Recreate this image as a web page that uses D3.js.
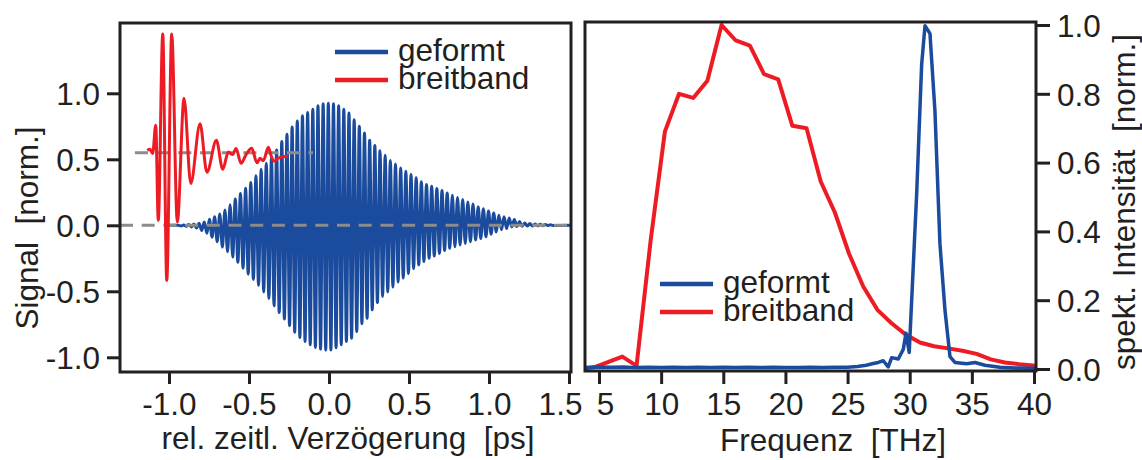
<!DOCTYPE html>
<html>
<head>
<meta charset="utf-8">
<script src="https://cdn.jsdelivr.net/npm/d3@7"></script>
<style>
  html, body { margin: 0; padding: 0; background: #fff; }
  svg { display: block; }
  text { font-family: "Liberation Sans", Arial, Helvetica, sans-serif; fill: #231f20; }
</style>
</head>
<body>
<svg id="chart" width="1142" height="460"></svg>
<script>
// ---------- tick labels ----------
const timeTicks = [-1.0, -0.5, 0.0, 0.5, 1.0, 1.5];
const signalTicks = [-1.0, -0.5, 0.0, 0.5, 1.0];
const freqTicks = [5, 10, 15, 20, 25, 30, 35, 40];
const intensityTicks = [0.0, 0.2, 0.4, 0.6, 0.8, 1.0];

// ---------- shaped pulse, time domain ----------
// crest / trough values of each carrier cycle (period in ps), starting at shapedFirstCrest
const shapedFirstCrest = -0.941;
const shapedPeriod = 0.0323;
const shapedLeadIn = -1.02;
const shapedTailOut = 1.51;
const shapedCrests = [0.0, 0.003, 0.006, 0.01, 0.015, 0.025, 0.045, 0.065, 0.085, 0.115,
  0.155, 0.2, 0.24, 0.28, 0.325, 0.375, 0.425, 0.47, 0.515, 0.57,
  0.635, 0.69, 0.745, 0.79, 0.83, 0.855, 0.88, 0.905, 0.92, 0.925,
  0.92, 0.905, 0.88, 0.85, 0.80, 0.75, 0.70, 0.645, 0.605, 0.565,
  0.53, 0.49, 0.465, 0.435, 0.41, 0.385, 0.36, 0.33, 0.31, 0.295,
  0.278, 0.263, 0.245, 0.227, 0.21, 0.195, 0.177, 0.162, 0.14, 0.125,
  0.108, 0.093, 0.077, 0.064, 0.055, 0.044, 0.028, 0.018, 0.013, 0.01,
  0.008, 0.006, 0.004];
const shapedTroughs = [-0.005, -0.008, -0.012, -0.02, -0.04, -0.06, -0.09, -0.125, -0.165, -0.20,
  -0.24, -0.28, -0.325, -0.37, -0.41, -0.455, -0.505, -0.555, -0.61, -0.66,
  -0.71, -0.76, -0.81, -0.85, -0.88, -0.905, -0.925, -0.938, -0.945, -0.945,
  -0.927, -0.905, -0.88, -0.855, -0.805, -0.745, -0.705, -0.64, -0.585, -0.54,
  -0.505, -0.468, -0.43, -0.40, -0.365, -0.327, -0.30, -0.275, -0.25, -0.233,
  -0.213, -0.19, -0.175, -0.163, -0.15, -0.137, -0.125, -0.112, -0.10, -0.087,
  -0.067, -0.05, -0.033, -0.025, -0.013, -0.01, -0.008, -0.006, -0.005, -0.004,
  -0.003, -0.002, -0.001];

// ---------- broadband pulse, time domain (offset trace) ----------
const broadbandTime = [-1.136, -1.119, -1.102, -1.083, -1.067, -1.039, -1.014, -0.983, -0.948, -0.906,
  -0.864, -0.806, -0.763, -0.704, -0.664, -0.629, -0.602, -0.581, -0.550, -0.519,
  -0.483, -0.450, -0.431, -0.411, -0.379, -0.3625, -0.341, -0.319, -0.2875, -0.254];
const broadbandSignal = [0.568, 0.576, 0.543, 0.758, 0.038, 1.45, -0.417, 1.45, 0.025, 0.962,
  0.316, 0.769, 0.402, 0.644, 0.424, 0.555, 0.536, 0.581, 0.47, 0.534,
  0.583, 0.473, 0.508, 0.489, 0.591, 0.53, 0.485, 0.508, 0.519, 0.523];
const broadbandOffset = 0.55;
const broadbandOffsetSpan = [-1.213, -0.1];

// ---------- spectra ----------
const shapedFreq = [3.85, 5, 6, 7, 8, 9, 10, 11, 12, 13, 14, 15, 16, 17, 18, 19, 20, 21, 22, 23, 24, 25,
  25.8, 26.5, 27.07, 27.47, 27.87, 28.27, 28.55, 29.08, 29.48, 29.7, 29.96,
  30.56, 30.96, 31.23, 31.63, 32.03, 32.43, 32.84, 33.24, 33.64,
  34.58, 35.25, 36.05, 37.26, 38.5, 40.15];
const shapedSpec = [0.004, 0.006, 0.005, 0.006, 0.004, 0.005, 0.004, 0.005, 0.004, 0.005, 0.004, 0.005,
  0.004, 0.005, 0.004, 0.005, 0.004, 0.004, 0.005, 0.004, 0.005, 0.005,
  0.007, 0.011, 0.016, 0.019, 0.024, 0.006, 0.033, 0.029, 0.057, 0.104, 0.048,
  0.51, 0.885, 0.998, 0.975, 0.75, 0.365, 0.17, 0.036, 0.019,
  0.015, 0.019, 0.011, 0.005, 0.003, 0.002];
const broadFreq = [3.85, 4.6, 6.88, 8.02, 9.16, 10.3, 11.44, 12.58, 13.72, 14.86, 16.0, 17.14, 18.28,
  19.42, 20.56, 21.7, 22.84, 23.98, 25.12, 26.26, 27.4, 28.54, 29.68, 30.82, 31.96,
  33.1, 34.24, 35.38, 36.52, 37.66, 38.8, 39.94, 40.15];
const broadSpec = [0.002, 0.005, 0.036, 0.009, 0.375, 0.69, 0.80, 0.788, 0.838, 1.0, 0.955, 0.94, 0.857,
  0.842, 0.707, 0.70, 0.545, 0.455, 0.335, 0.24, 0.172, 0.133, 0.10, 0.077, 0.066,
  0.06, 0.053, 0.044, 0.028, 0.019, 0.014, 0.010, 0.009];

const seriesNames = ["geformt", "breitband"];

// ---------- style ----------
const BLUE = "#1b4b9d";
const RED = "#ed1c24";
const GREY = "#8c8c8c";
const INK = "#231f20";
const FONT = 31.5;

const svg = d3.select("#chart");

function styleAxis(g) {
  g.select(".domain").remove();
  g.selectAll(".tick line").attr("stroke", INK).attr("stroke-width", 3);
  g.selectAll(".tick text").attr("font-size", FONT).attr("fill", INK);
}

function frame(b) {
  svg.append("rect")
    .attr("x", b.x0).attr("y", b.y0)
    .attr("width", b.x1 - b.x0).attr("height", b.y1 - b.y0)
    .attr("fill", "none").attr("stroke", INK).attr("stroke-width", 3);
}

function legend(x, y, gap) {
  const colors = [BLUE, RED];
  seriesNames.forEach((name, i) => {
    const yy = y + i * gap;
    svg.append("line")
      .attr("x1", x).attr("x2", x + 53).attr("y1", yy).attr("y2", yy)
      .attr("stroke", colors[i]).attr("stroke-width", 4.5);
    svg.append("text")
      .attr("x", x + 63).attr("y", yy + 9)
      .attr("font-size", FONT)
      .text(name);
  });
}

// =============== left panel: time domain ===============
const L = { x0: 120, x1: 571, y0: 23, y1: 372 };
const xT = d3.scaleLinear().domain([-1.0, 1.5]).range([169, 569]);
const yS = d3.scaleLinear().domain([-1.0, 1.0]).range([357.3, 93.3]);

svg.append("defs").append("clipPath").attr("id", "clipL")
  .append("rect").attr("x", L.x0).attr("y", L.y0)
  .attr("width", L.x1 - L.x0).attr("height", L.y1 - L.y0);

// shaped pulse: alternate crests and troughs
const shapedPts = [[shapedLeadIn, 0]];
shapedCrests.forEach((c, i) => {
  shapedPts.push([shapedFirstCrest + i * shapedPeriod, c]);
  shapedPts.push([shapedFirstCrest + (i + 0.5) * shapedPeriod, shapedTroughs[i]]);
});
shapedPts.push([shapedTailOut, 0]);

const lineT = d3.line()
  .x(d => xT(d[0])).y(d => yS(d[1]))
  .curve(d3.curveMonotoneX);

const plotL = svg.append("g").attr("clip-path", "url(#clipL)");

plotL.append("path").datum(shapedPts)
  .attr("d", lineT)
  .attr("fill", "none").attr("stroke", BLUE).attr("stroke-width", 3)
  .attr("stroke-linejoin", "round");

// dashed reference lines
plotL.append("line")
  .attr("x1", L.x0).attr("x2", L.x1)
  .attr("y1", yS(0)).attr("y2", yS(0))
  .attr("stroke", GREY).attr("stroke-width", 3).attr("stroke-dasharray", "13,8.7");
plotL.append("line")
  .attr("x1", xT(broadbandOffsetSpan[0])).attr("x2", xT(broadbandOffsetSpan[1]))
  .attr("y1", yS(broadbandOffset)).attr("y2", yS(broadbandOffset))
  .attr("stroke", GREY).attr("stroke-width", 3).attr("stroke-dasharray", "13,8.7");

plotL.append("path").datum(broadbandTime.map((t, i) => [t, broadbandSignal[i]]))
  .attr("d", lineT)
  .attr("fill", "none").attr("stroke", RED).attr("stroke-width", 3)
  .attr("stroke-linejoin", "round");

frame(L);

svg.append("g").attr("transform", `translate(0,${L.y1})`)
  .call(d3.axisBottom(xT).tickValues(timeTicks).tickSize(12).tickFormat(d => d.toFixed(1)))
  .call(styleAxis)
  .call(g => g.selectAll(".tick text").attr("y", 43).attr("dy", null)
    .attr("dx", d => d === 1.5 ? -9 : 0));

svg.append("g").attr("transform", `translate(${L.x0},0)`)
  .call(d3.axisLeft(yS).tickValues(signalTicks).tickSize(13).tickFormat(d => d.toFixed(1)))
  .call(styleAxis)
  .call(g => g.selectAll(".tick text").attr("x", -20).attr("dy", "0.36em"));

svg.append("text")
  .attr("x", 348).attr("y", 449)
  .attr("text-anchor", "middle").attr("font-size", FONT)
  .style("white-space", "pre")
  .text("rel. zeitl. Verzögerung  [ps]");

svg.append("text")
  .attr("transform", "translate(38,228) rotate(-90)")
  .attr("text-anchor", "middle").attr("font-size", FONT)
  .style("white-space", "pre")
  .text("Signal  [norm.]");

legend(335, 52, 28);

// =============== right panel: spectra ===============
const R = { x0: 585, x1: 1036, y0: 22, y1: 371 };
const xF = d3.scaleLinear().domain([5, 40]).range([599, 1034]);
const yI = d3.scaleLinear().domain([0, 1]).range([369, 25]);

svg.append("defs").append("clipPath").attr("id", "clipR")
  .append("rect").attr("x", R.x0).attr("y", R.y0 - 2)
  .attr("width", R.x1 - R.x0).attr("height", R.y1 - R.y0 + 2);

const lineF = d3.line().x(d => xF(d[0])).y(d => yI(d[1]));
const plotR = svg.append("g").attr("clip-path", "url(#clipR)");

plotR.append("path").datum(broadFreq.map((f, i) => [f, broadSpec[i]]))
  .attr("d", lineF)
  .attr("fill", "none").attr("stroke", RED).attr("stroke-width", 4)
  .attr("stroke-linejoin", "round");

plotR.append("path").datum(shapedFreq.map((f, i) => [f, shapedSpec[i]]))
  .attr("d", lineF)
  .attr("fill", "none").attr("stroke", BLUE).attr("stroke-width", 3.5)
  .attr("stroke-linejoin", "round");

frame(R);

svg.append("g").attr("transform", `translate(0,${R.y1})`)
  .call(d3.axisBottom(xF).tickValues(freqTicks).tickSize(13).tickFormat(d3.format("d")))
  .call(styleAxis)
  .call(g => g.selectAll(".tick text").attr("y", 44).attr("dy", null)
    .attr("dx", d => d === 5 ? 6 : 0));

svg.append("g").attr("transform", `translate(${R.x1},0)`)
  .call(d3.axisRight(yI).tickValues(intensityTicks).tickSize(14).tickFormat(d => d.toFixed(1)))
  .call(styleAxis)
  .call(g => g.selectAll(".tick text").attr("x", 21).attr("dy", "0.36em"));

svg.append("text")
  .attr("x", 833).attr("y", 451)
  .attr("text-anchor", "middle").attr("font-size", FONT)
  .style("white-space", "pre")
  .text("Frequenz  [THz]");

svg.append("text")
  .attr("transform", "translate(1135,202) rotate(-90)")
  .attr("text-anchor", "middle").attr("font-size", FONT)
  .style("white-space", "pre")
  .text("spekt. Intensität  [norm.]");

legend(660, 284, 28);
</script>
</body>
</html>
